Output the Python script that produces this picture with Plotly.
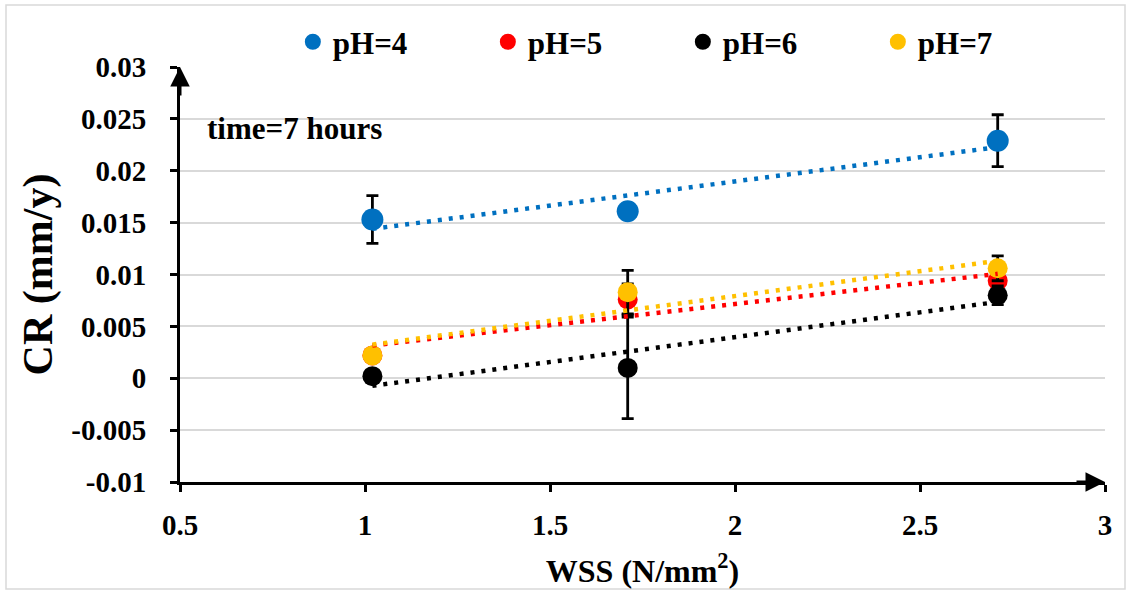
import numpy as np
import plotly.graph_objects as go

# ---- data ----
wss = [1.02, 1.71, 2.71]
series_names = ["pH=4", "pH=5", "pH=6", "pH=7"]
cr_ph4 = [0.0153, 0.0161, 0.0229]
cr_ph5 = [0.0022, 0.0076, 0.0094]
cr_ph6 = [0.0002, 0.0010, 0.0080]
cr_ph7 = [0.0022, 0.0083, 0.0106]
err_ph4 = [0.0023, 0.0002, 0.0025]
err_ph5 = [0.0003, 0.0015, 0.0005]
err_ph6 = [0.0004, 0.0049, 0.0009]
err_ph7 = [0.0003, 0.0021, 0.0012]
x_ticks = [0.5, 1, 1.5, 2, 2.5, 3]
x_tick_labels = ["0.5", "1", "1.5", "2", "2.5", "3"]
y_ticks = [-0.01, -0.005, 0, 0.005, 0.01, 0.015, 0.02, 0.025, 0.03]
y_tick_labels = ["-0.01", "-0.005", "0", "0.005", "0.01", "0.015", "0.02", "0.025", "0.03"]

colors = ["#0070C0", "#FF0000", "#000000", "#FFC000"]
marker_sizes = [22, 20, 20, 20]
ys = [cr_ph4, cr_ph5, cr_ph6, cr_ph7]
errs = [err_ph4, err_ph5, err_ph6, err_ph7]

SERIF = "Liberation Serif"

fig = go.Figure()

for name, y, e, c, ms in zip(series_names, ys, errs, colors, marker_sizes):
    fig.add_trace(go.Scatter(
        x=wss, y=y, mode="markers", name=name,
        marker=dict(color=c, size=ms, line=dict(width=0)),
        error_y=dict(type="data", array=e, visible=True, color="black",
                     thickness=2.8, width=6),
    ))

# linear trendlines (least squares), dotted
xs = np.array(wss)
for y, c in zip(ys, colors):
    k, b = np.polyfit(xs, np.array(y), 1)
    xt = [xs.min(), xs.max()]
    fig.add_trace(go.Scatter(
        x=xt, y=[k * v + b for v in xt], mode="lines", showlegend=False,
        hoverinfo="skip",
        line=dict(color=c, width=4.5, dash="4px,7px"),
    ))

axis_font = dict(family=SERIF, size=29, color="black", weight="bold")

fig.update_xaxes(
    range=[0.5, 3], tickvals=x_ticks, ticktext=x_tick_labels,
    showline=True, linecolor="black", linewidth=3,
    ticks="outside", ticklen=7, tickwidth=3, tickcolor="black",
    showgrid=False, zeroline=False, tickfont=axis_font,
    ticklabelstandoff=8,
    title=dict(text="WSS (N/mm<sup>2</sup>)",
               font=dict(family=SERIF, size=32, color="black", weight="bold"),
               standoff=20),
)
fig.update_yaxes(
    range=[-0.01, 0.03], tickvals=y_ticks, ticktext=y_tick_labels,
    showline=True, linecolor="black", linewidth=3,
    ticks="outside", ticklen=7, tickwidth=3, tickcolor="black",
    showgrid=True, gridcolor="#D9D9D9", gridwidth=1.5,
    zeroline=False, tickfont=axis_font,
    ticklabelstandoff=18,
    title=dict(text="CR (mm/y)",
               font=dict(family=SERIF, size=42, color="black", weight="bold"),
               standoff=6),
)

# axis arrows
fig.add_annotation(x=0.5, y=0.03, xref="x", yref="y", text="", showarrow=True,
                   ax=0, ay=30, arrowhead=2, arrowsize=1.3, arrowwidth=3,
                   arrowcolor="black", standoff=0)
fig.add_annotation(x=3, y=-0.01, xref="x", yref="y", text="", showarrow=True,
                   ax=-30, ay=0, arrowhead=2, arrowsize=1.3, arrowwidth=3,
                   arrowcolor="black", standoff=0)

fig.add_annotation(x=0.027, y=0.853, xref="paper", yref="paper",
                   xanchor="left", yanchor="middle", showarrow=False,
                   text="time=7 hours",
                   font=dict(family=SERIF, size=31, color="black", weight="bold"))

# chart border
fig.add_shape(type="rect", xref="paper", yref="paper",
              x0=(6 - 180) / 925, x1=(1125 - 180) / 925,
              y0=(482 - 589) / 415, y1=(482 - 5) / 415,
              line=dict(color="#D9D9D9", width=1.5), layer="below")

fig.update_layout(
    width=1128, height=592, autosize=False,
    margin=dict(l=180, r=23, t=67, b=110, autoexpand=False),
    paper_bgcolor="white", plot_bgcolor="white",
    showlegend=True,
    legend=dict(orientation="h", x=0.122, y=1.06, xanchor="left", yanchor="middle",
                entrywidth=150, entrywidthmode="pixels",
                font=dict(family=SERIF, size=31, color="black", weight="bold"),
                bgcolor="rgba(0,0,0,0)"),
)

fig.write_html("out.html")
